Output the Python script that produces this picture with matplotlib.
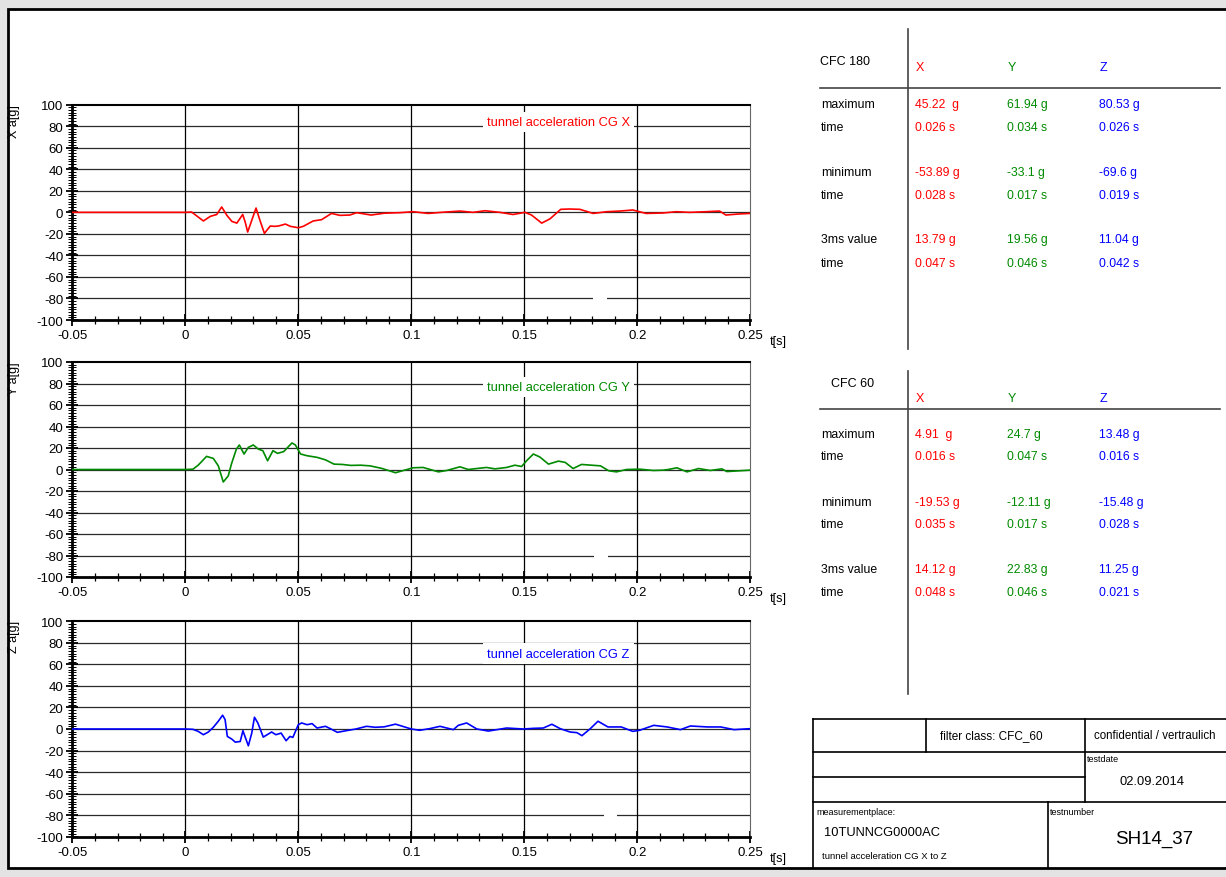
import numpy as np
import matplotlib
matplotlib.use('Agg')
import matplotlib.pyplot as plt
import matplotlib.ticker as ticker
from matplotlib.patches import Rectangle

plt.rcParams['font.family'] = ['Liberation Sans', 'DejaVu Sans']
plt.rcParams['axes.unicode_minus'] = False

W, H = 1226, 878

# curve values: (time s, acceleration g)
pts_x = [(-0.05, 0.0), (0.0, 0.0), (0.0028, 0.3), (0.008, -8.0), (0.0111, -3.7), (0.0139, -2.0),
         (0.0161, 5.0), (0.0184, -2.8), (0.0206, -8.4), (0.0228, -10.0), (0.0241, -6.0),
         (0.0254, -2.0), (0.0265, -9.0), (0.0276, -18.3), (0.0294, -7.4), (0.0313, 4.0),
         (0.0328, -6.0), (0.035, -19.5), (0.0376, -12.7), (0.0395, -13.0), (0.0412, -12.7),
         (0.0443, -10.9), (0.0465, -13.0), (0.05, -14.3), (0.0522, -13.0), (0.0566, -8.0),
         (0.0603, -6.8), (0.0647, -1.0), (0.0684, -2.8), (0.0728, -2.5), (0.0758, -0.3),
         (0.0822, -2.5), (0.088, -0.8), (0.095, -0.3), (0.1008, 0.6), (0.1075, -1.0),
         (0.1133, 0.0), (0.1215, 1.2), (0.1274, 0.0), (0.1326, 1.5), (0.1392, 0.0),
         (0.145, -2.0), (0.1503, 0.0), (0.1532, -2.5), (0.1577, -10.0), (0.1614, -6.0),
         (0.1661, 2.8), (0.1698, 3.1), (0.1746, 2.8), (0.1805, -1.0), (0.1864, 0.6),
         (0.1923, 1.2), (0.198, 2.2), (0.2039, -1.0), (0.2113, -0.6), (0.2172, 0.6),
         (0.2231, 0.0), (0.2305, 0.6), (0.2364, 1.2), (0.2392, -2.5), (0.245, -1.5),
         (0.25, -1.0)]

pts_y = [(-0.05, 0.0), (0.0, 0.0), (0.0034, 0.3), (0.0057, 4.0), (0.0094, 12.2), (0.0124, 10.3),
         (0.0146, 3.4), (0.0168, -11.6), (0.019, -6.0), (0.0204, 5.0), (0.0226, 19.0),
         (0.0239, 22.8), (0.026, 14.4), (0.0279, 20.6), (0.0301, 22.8), (0.0323, 19.0),
         (0.0343, 17.5), (0.0364, 8.1), (0.0388, 17.5), (0.0408, 15.0), (0.0435, 16.6),
         (0.0472, 24.7), (0.0487, 22.8), (0.051, 14.4), (0.0539, 12.8), (0.0583, 11.3),
         (0.062, 9.0), (0.0658, 5.0), (0.0695, 4.7), (0.0732, 3.8), (0.0776, 4.0),
         (0.0817, 3.4), (0.087, 1.0), (0.093, -3.0), (0.1008, 1.6), (0.1052, 1.9),
         (0.112, -2.2), (0.1157, -0.9), (0.1215, 2.5), (0.1252, 0.0), (0.1289, 0.9),
         (0.1333, 1.9), (0.137, 0.6), (0.1422, 1.9), (0.1458, 4.0), (0.1488, 2.8),
         (0.151, 8.1), (0.154, 14.4), (0.1569, 11.6), (0.1607, 5.0), (0.1651, 7.8),
         (0.1681, 6.6), (0.1716, 0.9), (0.1753, 4.7), (0.1798, 4.0), (0.1837, 3.4),
         (0.1874, -1.2), (0.1908, -2.2), (0.1952, 0.0), (0.2011, 0.3), (0.2071, -0.9),
         (0.2115, -0.6), (0.2137, 0.0), (0.2175, 1.6), (0.222, -2.2), (0.2271, 0.9),
         (0.2323, -0.9), (0.2374, 0.6), (0.2396, -1.9), (0.25, -0.6)]

pts_z = [(-0.05, 0.0), (0.0, 0.0), (0.0034, -0.3), (0.0057, -2.2), (0.008, -5.3), (0.0102, -2.8),
         (0.0124, 1.6), (0.0146, 7.2), (0.0165, 12.8), (0.0176, 8.8), (0.0186, -6.9),
         (0.0206, -9.4), (0.0221, -12.2), (0.0243, -11.6), (0.0255, -1.6), (0.0264, -6.9),
         (0.0279, -15.6), (0.0294, -3.8), (0.0306, 10.9), (0.0321, 5.6), (0.0345, -7.5),
         (0.0367, -4.7), (0.0382, -2.8), (0.0401, -5.3), (0.0424, -3.8), (0.0446, -10.9),
         (0.0463, -6.9), (0.0476, -7.8), (0.05, 4.0), (0.0515, 5.6), (0.0539, 4.0),
         (0.0561, 5.0), (0.0583, 0.9), (0.062, 2.5), (0.0642, 0.3), (0.0673, -3.1),
         (0.0711, -1.6), (0.0755, 0.0), (0.0802, 2.5), (0.084, 1.6), (0.088, 2.0),
         (0.093, 4.5), (0.1, 0.0), (0.1037, -1.2), (0.1081, 0.3), (0.1127, 2.5),
         (0.1186, -0.6), (0.1208, 3.4), (0.1245, 5.6), (0.129, 0.0), (0.1341, -1.9),
         (0.1422, 0.9), (0.1496, 0.0), (0.154, 0.6), (0.1584, 0.9), (0.1622, 4.4),
         (0.1659, 0.3), (0.1703, -2.8), (0.1733, -3.4), (0.1755, -6.2), (0.1792, 0.3),
         (0.1826, 7.2), (0.187, 1.9), (0.1929, 1.9), (0.198, -2.2), (0.201, -1.2),
         (0.2073, 3.4), (0.2132, 1.9), (0.2191, -0.6), (0.2235, 2.8), (0.231, 1.9),
         (0.2369, 1.9), (0.2428, -0.6), (0.25, 0.3)]

channels = ['X', 'Y', 'Z']
curve_names = ['tunnel acceleration CG X', 'tunnel acceleration CG Y', 'tunnel acceleration CG Z']
curve_colors = ['#ff0000', '#008a00', '#0000ff']
label_levels = [84, 76.5, 70]

# result tables
row_labels = ['maximum', 'time', 'minimum', 'time', '3ms value', 'time']
cfc180 = {
    'X': ['45.22  g', '0.026 s', '-53.89 g', '0.028 s', '13.79 g', '0.047 s'],
    'Y': ['61.94 g', '0.034 s', '-33.1 g', '0.017 s', '19.56 g', '0.046 s'],
    'Z': ['80.53 g', '0.026 s', '-69.6 g', '0.019 s', '11.04 g', '0.042 s'],
}
cfc60 = {
    'X': ['4.91  g', '0.016 s', '-19.53 g', '0.035 s', '14.12 g', '0.048 s'],
    'Y': ['24.7 g', '0.047 s', '-12.11 g', '0.017 s', '22.83 g', '0.046 s'],
    'Z': ['13.48 g', '0.016 s', '-15.48 g', '0.028 s', '11.25 g', '0.021 s'],
}

fig = plt.figure(figsize=(W / 100, H / 100), dpi=100)
fig.patch.set_facecolor('#e3e3e3')

# page / overlay in pixel coordinates
bg = fig.add_axes([0, 0, 1, 1])
bg.set_xlim(0, W)
bg.set_ylim(H, 0)
bg.axis('off')
bg.add_patch(Rectangle((8, 10), W + 10, 859, facecolor='white', edgecolor='black', lw=2))


def px_axes(x0, y0, x1, y1):
    return fig.add_axes([x0 / W, 1 - y1 / H, (x1 - x0) / W, (y1 - y0) / H])


boxes = [(72.3, 105.7, 750.3, 321), (72.3, 363, 750.3, 578), (72.3, 622.3, 750.3, 837.7)]
series = [pts_x, pts_y, pts_z]
gaps = [(0.1805, 0.1864), (0.181, 0.187), (0.1853, 0.1911)]

for i, box in enumerate(boxes):
    ax = px_axes(*box)
    t, a = np.array(series[i]).T
    ax.set_xlim(-0.05, 0.25)
    ax.set_ylim(-100, 100)
    ax.xaxis.set_minor_locator(ticker.MultipleLocator(0.01))
    ax.yaxis.set_major_locator(ticker.MultipleLocator(20))
    ax.yaxis.set_minor_locator(ticker.MultipleLocator(2.5))
    ax.set_xticks([-0.05, 0, 0.05, 0.1, 0.15, 0.2, 0.25])
    ax.set_xticklabels(['-0.05', '0', '0.05', '0.1', '0.15', '0.2', '0.25'])
    ax.tick_params(which='major', direction='inout', length=9, width=1.3, labelsize=9.5, colors='black', pad=2)
    ax.tick_params(which='minor', direction='inout', length=6, width=0.9)
    ax.tick_params(axis='y', which='minor', length=6, width=0.7)
    for v in np.arange(-80, 100, 20):
        ax.axhline(v, color='#2a2a2a', lw=0.9, zorder=1)
    for v in [0, 0.05, 0.1, 0.15, 0.2]:
        ax.axvline(v, color='black', lw=0.9, zorder=1)
    ax.spines['left'].set_linewidth(2)
    ax.spines['bottom'].set_linewidth(2)
    ax.spines['top'].set_linewidth(1.5)
    ax.spines['right'].set_color('#666666')
    ax.plot(t, a, color=curve_colors[i], lw=1.2, zorder=4)
    ax.text(0.1335, label_levels[i], curve_names[i], color=curve_colors[i], fontsize=9.3,
            va='center', ha='left', zorder=3,
            bbox=dict(facecolor='white', edgecolor='none', pad=3))
    ax.add_patch(Rectangle((gaps[i][0], -83), gaps[i][1] - gaps[i][0], 6,
                           facecolor='white', edgecolor='none', zorder=2))
    bg.text(14, box[1] - 1, channels[i] + ' a[g]', rotation=90, ha='center', va='top', fontsize=9)
    bg.text(770, box[3] + 21, 't[s]', ha='left', va='center', fontsize=9)


def result_table(top, title, title_x, head_y, line_y, vline, row_y, vals):
    bg.plot([908, 908], vline, color='#444444', lw=1.2)
    bg.plot([820, 1220], [line_y, line_y], color='#444444', lw=1.2)
    bg.text(title_x, top, title, fontsize=9, va='center')
    col_x = [916, 1008, 1100]
    for j, ch in enumerate(channels):
        bg.text(col_x[j], head_y, ch, color=curve_colors[j], fontsize=9, va='center')
        for k, yy in enumerate(row_y):
            bg.text(col_x[j] - 1, yy, vals[ch][k], color=curve_colors[j], fontsize=8.8, va='center')
    for k, yy in enumerate(row_y):
        bg.text(821, yy, row_labels[k], fontsize=8.8, va='center')


result_table(62, 'CFC 180', 820, 68, 89, [30, 350], [105, 128, 173, 196, 240, 264], cfc180)
result_table(384, 'CFC 60', 831, 399, 410, [372, 695], [435, 457, 503, 525, 570, 593], cfc60)

# title block
lk = dict(color='black', lw=1.2)
bg.plot([813, W], [720, 720], **lk)
bg.plot([813, 813], [720, 869], **lk)
bg.plot([813, W], [753, 753], **lk)
bg.plot([813, 1085], [778, 778], **lk)
bg.plot([813, W], [803, 803], **lk)
bg.plot([926, 926], [720, 753], **lk)
bg.plot([1085, 1085], [720, 803], **lk)
bg.plot([1048, 1048], [803, 869], **lk)
bg.text(940, 736, 'filter class: CFC_60', fontsize=8.5, va='center')
bg.text(1094, 736, 'confidential / vertraulich', fontsize=8.3, va='center')
bg.text(1087, 760, 'testdate', fontsize=6.5, va='center')
bg.text(1120, 782, '02.09.2014', fontsize=9.3, va='center')
bg.text(816, 813, 'measurementplace:', fontsize=6.5, va='center')
bg.text(1050, 813, 'testnumber', fontsize=6.5, va='center')
bg.text(824, 833, '10TUNNCG0000AC', fontsize=9.3, va='center')
bg.text(822, 857, 'tunnel acceleration CG X to Z', fontsize=6.8, va='center')
bg.text(1115, 839, 'SH14_37', fontsize=13.5, va='center')

fig.savefig('out.png', dpi=100, facecolor=fig.get_facecolor())
